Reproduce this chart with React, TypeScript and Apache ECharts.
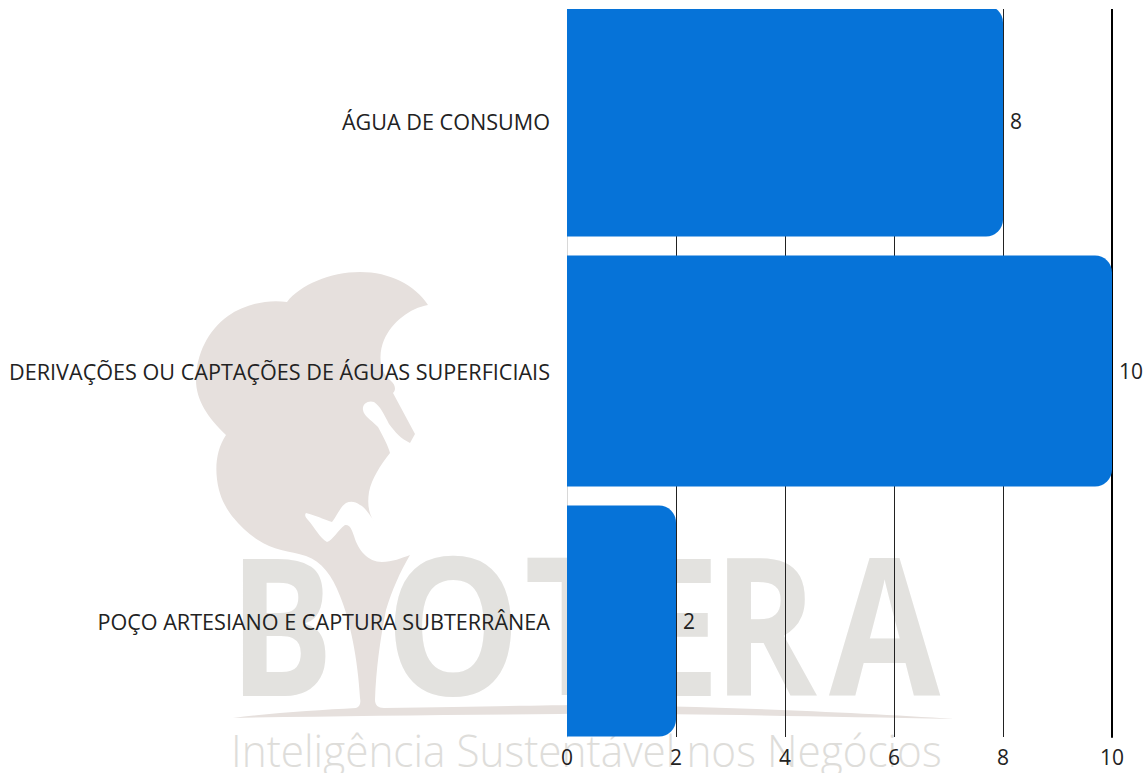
import React, { useEffect, useRef } from "react";
import * as echarts from "echarts";

const categories = ["ÁGUA DE CONSUMO", "DERIVAÇÕES OU CAPTAÇÕES DE ÁGUAS SUPERFICIAIS", "POÇO ARTESIANO E CAPTURA SUBTERRÂNEA"];
const values = [8, 10, 2];
const brandLetters = ["B", "O", "T", "E", "R", "A"];
const tagline = "Inteligência Sustentável nos Negócios";

const treeD =
  "M287 302 C300 285 330 272 360 272 C390 272 415 285 428 305 C410 308 392 322 384 340 C379 352 378 370 390 380 C396 385 396 390 393 393 L415 434 L410 443 C400 438 396 433 389 424 C384 414 380 406 374 402 C368 400 362 404 363 410 C364 416 370 419 378 427 C384 438 388 446 390 453 C380 466 372 478 369 492 C367 505 369 515 375 523 C370 515 365 507 360 505 C355 501 350 501 346 503 C340 507 337 516 332 522 C325 520 315 515 306 513 C304 515 306 518 308 520 C315 528 320 538 327 542 C333 540 338 530 345 525 C350 524 352 530 354 536 C358 550 368 562 382 562 C392 562 402 558 410 555 C400 572 392 590 386 610 C380 640 376 670 375 700 C375 705 378 708 384 708 C480 707 540 705 590 705 C700 706 850 712 954 719 C800 716 650 713 560 714 C450 715 330 716 233 718 C270 713 320 710 356 708 C360 707 361 703 360 698 C358 660 350 620 340 596 C332 575 322 562 306 556 C290 551 272 550 258 540 C240 528 224 510 219 490 C214 470 216 450 226 435 C208 418 196 400 196 380 C196 355 208 330 228 316 C245 304 268 299 287 302 Z";
echarts.graphic.registerShape("tree", echarts.graphic.extendPath(treeD as any, {}));

const font = "Open Sans";
const letterColor = "#e3e2df";
const letterX = [229, 385, 524, 628, 713, 829];
const letterScale = [0.81, 0.89, 0.92, 0.86, 0.82, 0.84];
const dy = 20;

export default function App() {
  const ref = useRef<HTMLDivElement>(null);
  useEffect(() => {
    const chart = echarts.init(ref.current!, undefined, { renderer: "svg" });
    chart.setOption({
      animation: false,
      graphic: [
        ...brandLetters.map((t, i) => ({
          type: "text",
          x: letterX[i],
          y: 621 + dy,
          scaleX: letterScale[i],
          z: -2,
          silent: true,
          style: { text: t, fontFamily: font, fontWeight: 700, fontSize: 192, fill: letterColor, textVerticalAlign: "middle", textAlign: "left" },
        })),
        { type: "tree", x: 0, y: dy, z: -1, silent: true, style: { fill: "#e6e0dd" } },
        {
          type: "text",
          x: 231,
          y: 750 + dy,
          scaleX: 0.962,
          z: -1,
          silent: true,
          style: { text: tagline, fontFamily: font, fontWeight: 300, fontSize: 44, fill: "#dedddA", textVerticalAlign: "middle", textAlign: "left" },
        },
      ],
      grid: [
        { left: 567, width: 545, top: -4 + dy, height: 750 },
        { left: 567, width: 545, top: 9 + dy, height: 728 },
      ],
      xAxis: [
        { gridIndex: 0, type: "value", min: 0, max: 10, show: false },
        {
          gridIndex: 1,
          type: "value",
          min: 0,
          max: 10,
          interval: 2,
          axisLine: { show: false },
          axisTick: { show: false },
          splitLine: { show: true, lineStyle: { color: "#222", width: 1 } },
          axisLabel: { color: "#222", fontFamily: font, fontSize: 21, margin: 9 },
        },
      ],
      yAxis: [
        {
          gridIndex: 0,
          type: "category",
          inverse: true,
          data: categories,
          axisLine: { show: false },
          axisTick: { show: false },
          axisLabel: { color: "#222", fontFamily: font, fontSize: 21.6, margin: 17 },
        },
        { gridIndex: 1, type: "value", position: "left", min: 0, max: 1, axisLabel: { show: false }, axisTick: { show: false }, splitLine: { show: false }, axisLine: { show: true, lineStyle: { color: "#d8d8d8", width: 1 } } },
        { gridIndex: 1, type: "value", position: "right", min: 0, max: 1, axisLabel: { show: false }, axisTick: { show: false }, splitLine: { show: false }, axisLine: { show: true, lineStyle: { color: "#000", width: 2 } } },
      ],
      series: [
        {
          type: "bar",
          xAxisIndex: 0,
          yAxisIndex: 0,
          data: values,
          barWidth: 231,
          itemStyle: { color: "#0673d8", borderRadius: [0, 17, 17, 0] },
          label: { show: true, position: "right", distance: 7, color: "#222", fontFamily: font, fontSize: 21 },
        },
      ],
    });
    return () => chart.dispose();
  }, []);
  return (
    <div
      ref={ref}
      style={{ position: "fixed", left: 0, top: -dy, width: 1148, height: 773 + dy, clipPath: `inset(${9 + dy}px 0 0 0)`, background: "#fff" }}
    />
  );
}
